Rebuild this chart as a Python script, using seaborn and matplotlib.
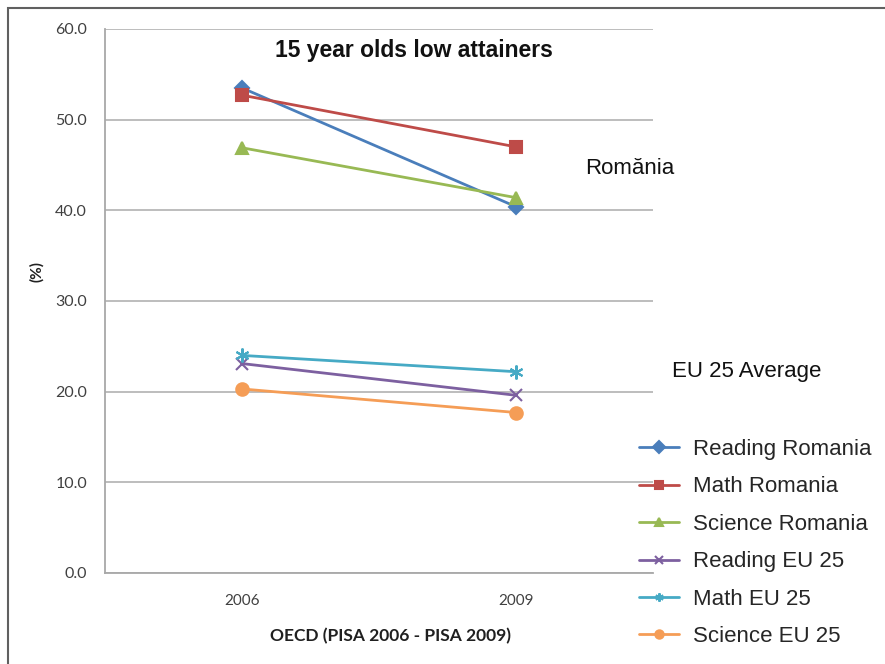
import matplotlib
matplotlib.use("Agg")
import matplotlib.pyplot as plt
from matplotlib.patches import Rectangle
import seaborn as sns
import pandas as pd

years = ["2006", "2009"]
series_names = ["Reading Romania", "Math Romania", "Science Romania",
                "Reading EU 25", "Math EU 25", "Science EU 25"]
reading_romania = [53.5, 40.4]
math_romania = [52.7, 47.0]
science_romania = [46.9, 41.4]
reading_eu25 = [23.1, 19.6]
math_eu25 = [24.0, 22.2]
science_eu25 = [20.3, 17.7]
y_ticks = [0, 10, 20, 30, 40, 50, 60]

values = [reading_romania, math_romania, science_romania,
          reading_eu25, math_eu25, science_eu25]
colors = ["#4A7EBB", "#BE4B48", "#98B954", "#7D60A0", "#46AAC5", "#F59D56"]
markers = ["D", "s", "^", "x", (6, 2, 0), "o"]
msizes = [7, 8, 9, 9, 10, 9]

rows = []
for name, vals in zip(series_names, values):
    for yr, v in zip(years, vals):
        rows.append({"year": yr, "value": v, "series": name})
df = pd.DataFrame(rows)

sns.set_theme(style="white")
plt.rcParams["font.family"] = ["Liberation Sans", "DejaVu Sans"]

fig = plt.figure(figsize=(8.85, 6.64), dpi=100)
ax = fig.add_axes([105 / 885, 1 - 573 / 664, (653 - 105) / 885, (573 - 29) / 664])

for name, col, mk, ms in zip(series_names, colors, markers, msizes):
    sub = df[df["series"] == name]
    sns.lineplot(data=sub, x="year", y="value", ax=ax, color=col, marker=mk,
                 markersize=ms, linewidth=2.0, markeredgecolor=col,
                 markeredgewidth=1.5, label=name, sort=False)

ax.set_xlim(-0.5, 1.5)
ax.set_ylim(0, 60)
ax.set_yticks(y_ticks)
ax.set_yticklabels([f"{t:.1f}" for t in y_ticks], fontsize=11.5, color="#404040",
                   family="Lato")
ax.set_xticks([0, 1])
ax.set_xticklabels(years, fontsize=11, color="#404040", family="Lato")
ax.tick_params(axis="x", length=0, pad=15)
ax.tick_params(axis="y", length=5, color="#a0a0a0", width=1, direction="out", pad=8)
ax.set_xticks([0.5, 1.5], minor=True)
ax.tick_params(axis="x", which="minor", length=5, color="#a0a0a0", width=1)
ax.yaxis.grid(True, color="#b8b8b8", linewidth=1.3)
for side in ["top", "right"]:
    ax.spines[side].set_visible(False)
for side in ["left", "bottom"]:
    ax.spines[side].set_color("#a8a8a8")
    ax.spines[side].set_linewidth(1.3)

ax.set_xlabel("")
ax.set_ylabel("")
fig.text(37 / 885, 1 - 272 / 664, "(%)", rotation=90, ha="center", va="center",
         fontsize=11, fontweight="bold", color="#202020", family="Lato")
fig.text(390 / 885, 1 - 636 / 664, "OECD (PISA 2006 - PISA 2009)", ha="center",
         va="center", fontsize=12.5, fontweight="bold", color="#202020", family="Lato")
fig.text(414 / 885, 1 - 50 / 664, "15 year olds low attainers", ha="center",
         va="center", fontsize=16.5, fontweight="bold", color="#111111")
fig.text(585 / 885, 1 - 168 / 664, "Romănia", ha="left", va="center",
         fontsize=16, color="#111111")
fig.text(672 / 885, 1 - 372 / 664, "EU 25 Average", ha="left", va="center",
         fontsize=16, color="#111111")

handles, labels = ax.get_legend_handles_labels()
leg = ax.legend(handles, labels, loc="upper left",
                bbox_to_anchor=(639 / 885, 1 - 439 / 664),
                bbox_transform=fig.transFigure, frameon=False, fontsize=16,
                handlelength=1.8, labelspacing=0.74, handletextpad=0.65,
                borderaxespad=0, borderpad=0)
for h in leg.legend_handles:
    h.set_markersize(6)

# outer chart frame
fig.patches.append(Rectangle((8 / 885, -0.01), 1.0, 1 - 8 / 664 + 0.01,
                             transform=fig.transFigure, fill=False,
                             edgecolor="#606060", linewidth=1.5))

fig.savefig("out.png", dpi=100, facecolor="white")
